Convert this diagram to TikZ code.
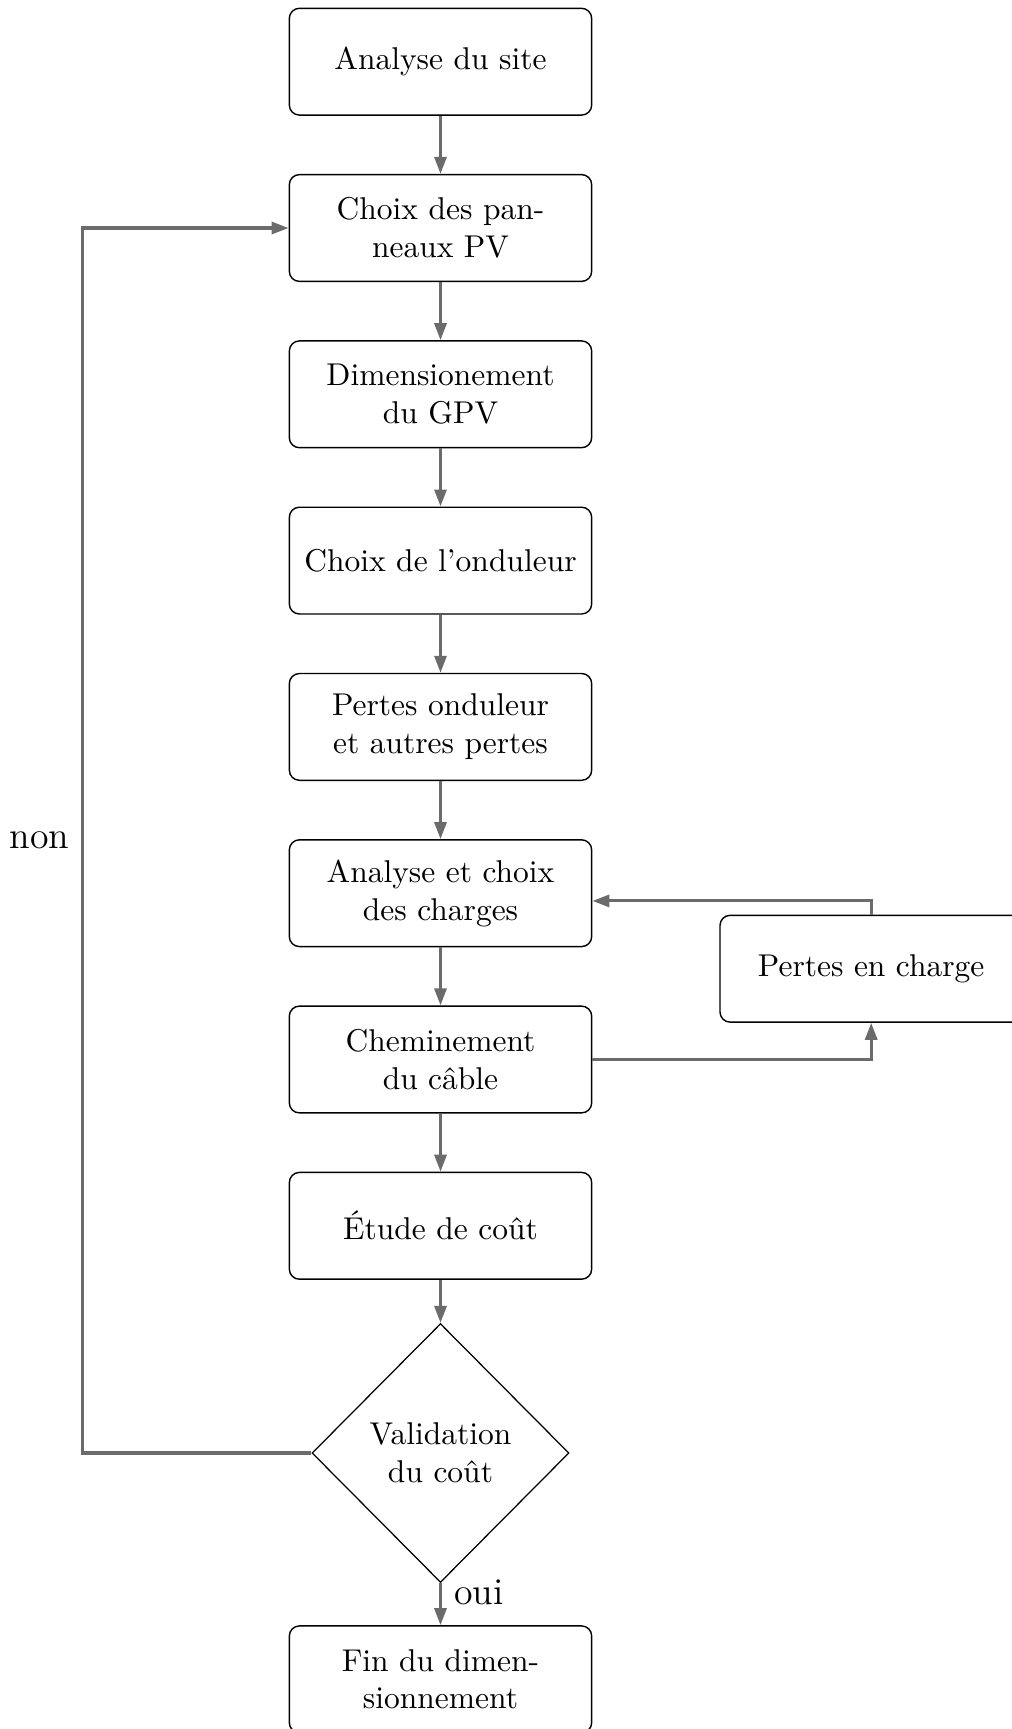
\documentclass[tikz,border=0pt]{standalone}
\usetikzlibrary{shapes.geometric,arrows.meta,calc}
\definecolor{linegray}{HTML}{6B6B6B}
\begin{document}
\begin{tikzpicture}[x=0.3175pt,y=-0.3175pt,
  box/.style={draw=black, line width=0.45pt, rounded corners=3.2pt, minimum width=96pt, minimum height=33.9pt, align=center, inner sep=3pt, font=\fontsize{10}{12}\selectfont},
  dec/.style={draw=black, line width=0.4pt, shape=diamond, minimum width=81.6pt, minimum height=82.2pt, inner sep=0pt, align=center, font=\fontsize{10}{12}\selectfont},
  arr/.style={draw=linegray, line width=1pt, -{Triangle[length=5.4pt,width=3.8pt]}},
  lab/.style={font=\large, inner sep=0pt}]
\useasboundingbox (0,0) rectangle (1012,1729);
\node[box] (site) at (440.5,61.7) {Analyse du site};
\node[box] (choix) at (440.5,228.0) {Choix des pan-\\neaux PV};
\node[box] (dim) at (440.5,394.3) {Dimensionement\\du GPV};
\node[box] (ond) at (440.5,560.6) {Choix de l’onduleur};
\node[box] (pertes) at (440.5,726.9) {Pertes onduleur\\et autres pertes};
\node[box] (charges) at (440.5,893.2) {Analyse et choix\\des charges};
\node[box] (cable) at (440.5,1059.5) {Cheminement\\du câble};
\node[box] (cout) at (440.5,1225.8) {Étude de coût};
\node[dec] (valid) at (440.5,1453) {Validation\\du coût};
\node[box] (fin) at (440.5,1679.3) {Fin du dimen-\\sionnement};
\node[box] (pch) at (871.2,968.7) {Pertes en charge};
\coordinate (nonc) at (82.7,1453);
\draw[arr] (site) -- (choix);
\draw[arr] (choix) -- (dim);
\draw[arr] (dim) -- (ond);
\draw[arr] (ond) -- (pertes);
\draw[arr] (pertes) -- (charges);
\draw[arr] (charges) -- (cable);
\draw[arr] (cable) -- (cout);
\draw[arr] (cout) -- (valid);
\draw[arr] (valid.south) -- node[pos=0.22, anchor=west, lab, xshift=3.8pt]{oui} (fin.north);
\draw[arr] (valid.west) -- (nonc) |- node[pos=0.25, anchor=east, lab, xshift=-3.8pt]{non} (choix.west);
\draw[arr] (cable.east) -| (pch.south);
\draw[arr] (pch.north) |- ($(charges.east)+(0,7.7)$);
\end{tikzpicture}
\end{document}
